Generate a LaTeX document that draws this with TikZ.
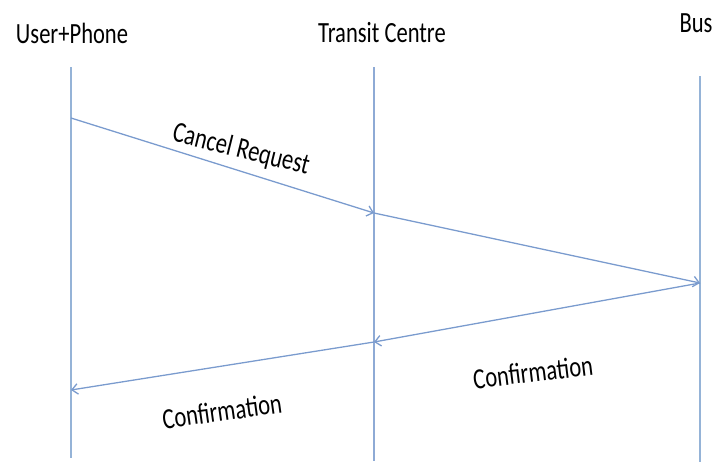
\documentclass[tikz,border=0pt]{standalone}
\usepackage{xcolor}
\usepackage{fontspec}
\setmainfont{Carlito}[FakeStretch=0.77]
\usepackage{tikz}
\usetikzlibrary{arrows.meta, positioning}
\definecolor{lifeblue}{RGB}{149,179,215}
\definecolor{msgblue}{RGB}{122,155,206}

\begin{document}
\begin{tikzpicture}[
    x=0.03cm, y=-0.03cm,
    actor/.style={font=\fontsize{25}{30}\selectfont, inner sep=0pt},
    lifeline/.style={draw=lifeblue, line width=1.5pt},
    message/.style={draw=msgblue, line width=1.1pt, -{Straight Barb[length=5pt, width=9pt]}},
    msglabel/.style={font=\fontsize{25}{30}\selectfont, inner sep=0pt}
]
    \useasboundingbox (0,0) rectangle (714,462);

    % participants
    \node[actor] (user) at (72,33) {User+Phone};
    \node[actor] (transit) at (382,33) {Transit Centre};
    \node[actor] (bus) at (696,23) {Bus};

    % lifelines
    \coordinate (userTop) at (71,67);
    \coordinate (userBot) at (71,458);
    \coordinate (transitTop) at (374,67);
    \coordinate (transitBot) at (374,461);
    \coordinate (busTop) at (700,76);
    \coordinate (busBot) at (700,462);
    \draw[lifeline] (userTop) -- (userBot);
    \draw[lifeline, draw=msgblue!85, line width=2.3pt] (transitTop) -- (transitBot);
    \draw[lifeline] (busTop) -- (busBot);

    % message points on the lifelines
    \coordinate (u1) at (71,118);
    \coordinate (t1) at (374,213);
    \coordinate (b1) at (700,283);
    \coordinate (t2) at (374,342);
    \coordinate (u2) at (71,390);

    \draw[message] (u1) -- (t1);
    \draw[message] (t1) -- (b1);
    \draw[message] (b1) -- (t2);
    \draw[message] (t2) -- (u2);

    \node[msglabel, rotate=-14] (cancel) at (241,150) {Cancel Request};
    \node[msglabel, rotate=7] (confirmBus) at (533,372) {Confirmation};
    \node[msglabel, rotate=8] (confirmUser) at (222,411) {Confirmation};
\end{tikzpicture}
\end{document}
